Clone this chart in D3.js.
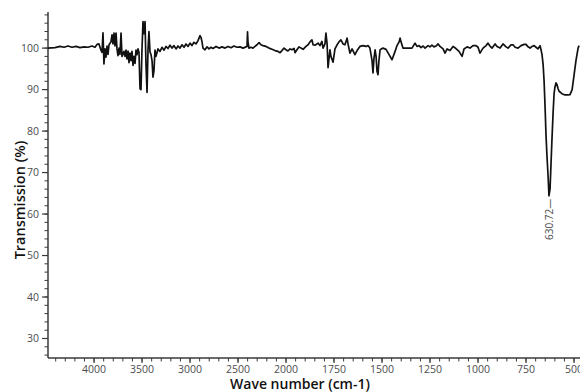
<!DOCTYPE html>
<html>
<head>
<meta charset="utf-8">
<script src="https://cdn.jsdelivr.net/npm/d3@7"></script>
<style>
html,body{margin:0;padding:0;background:#fff;}
svg{display:block;}
</style>
</head>
<body>
<svg id="chart" width="580" height="392"></svg>
<script>
// ---- data ----
const wavenumbers = [4480,4407,4355,4313,4272,4230,4188,4147,4105,4063,4022,3990,3969,3949,3928,3917,3907,3897,3886,3876,3865,3855,3844,3824,3813,3803,3792,3782,3771,3761,3751,3740,3730,3719,3709,3688,3678,3667,3657,3646,3636,3626,3615,3605,3594,3584,3573,3563,3553,3542,3532,3521,3511,3501,3490,3480,3469,3459,3448,3438,3428,3417,3407,3396,3386,3376,3365,3355,3334,3313,3292,3271,3250,3230,3209,3188,3167,3146,3125,3105,3084,3063,3042,3021,3000,2980,2959,2938,2917,2896,2886,2875,2865,2844,2823,2802,2782,2761,2729,2698,2667,2636,2604,2573,2542,2511,2479,2448,2417,2406,2401,2396,2386,2365,2344,2323,2302,2281,2261,2240,2208,2177,2146,2115,2083,2062,2042,2021,2000,
1990,1979,1969,1958,1953,1943,1932,1922,1911,1896,1885,1875,1865,1859,1849,1833,1823,1813,1807,1797,1792,1786,1781,1776,1771,1766,1755,1745,1734,1724,1714,1703,1693,1682,1677,1667,1656,1641,1630,1615,1599,1583,1573,1563,1552,1547,1542,1536,1531,1526,1521,1516,1510,1495,1479,1464,1448,1432,1422,1411,1406,1401,1391,1375,1359,1344,1328,1318,1307,1297,1286,1276,1260,1250,1240,1229,1219,1208,1198,1182,1172,1161,1146,1130,1115,1099,1083,1073,1057,1042,1026,1010,1000,990,974,958,948,938,927,911,901,885,870,854,844,828,818,807,792,776,760,750,740,729,719,708,698,688,677,672,667,661,656,651,646,641,635,630.72,625,620,615,609,604,599,594,589,583,578,563,547,531,521,510,500,490,479,474];
const transmission = [100,100.1,100.4,100.2,100.5,100.2,100.4,100.1,100.3,100.2,100.5,100.2,100.9,101.0,99.5,99.0,103.7,96.2,99.8,97.8,100.5,98.5,100.8,101.5,103.2,101.0,103.6,100.5,103.6,99.8,98.2,100,98.5,103.6,98.0,99.2,98.0,99.5,97.4,99.3,96.5,98.8,97.0,99.2,95.8,98.0,96.3,99.5,98.4,99.8,99.0,90.2,90.0,99.5,106.4,103.5,106.4,96.0,89.3,99.5,104,99.0,98.5,97.0,93.0,94.5,99.5,98.0,99.8,99.2,100.2,99.5,100.4,99.9,100.7,100.0,100.6,99.8,100.5,100.0,100.8,100.2,101.0,100.4,101.2,100.6,101.4,101.0,101.8,103.0,102.6,101.5,100.0,99.6,100.3,99.8,100.2,99.9,100.4,100.0,100.3,100.0,100.4,100.1,100.5,100.2,100.3,100.0,100.3,100.4,103.9,101.5,100.0,100.2,100.0,100.4,100.8,101.3,100.8,100.6,100.4,100.0,99.7,99.4,99.2,98.9,99.4,100.0,99.6,
99.3,99.8,99.6,99.9,98.9,99.6,100.3,100.0,99.7,100.4,100.8,101.5,102.0,100.8,100.7,101.2,100.6,101.6,100.0,101.0,103.6,101.0,95.3,97.5,99.6,98.0,96.6,99.8,100.8,101.5,102.0,101.0,100.8,102.4,101.0,98.8,99.8,98.4,99.4,100.4,100.6,100.4,100.6,100.0,97.0,94.0,97.5,99.6,98.0,94.4,93.6,97.0,99.6,100.0,99.7,98.5,97.2,99.2,100.6,101.5,102.4,101.5,100.0,100.0,100.0,100.0,101.2,100.4,100.6,100.1,100.5,100.0,100.6,100.3,100.7,100.3,100.5,101.0,100.4,99.8,98.8,99.8,99.4,100.4,99.9,99.2,98.0,99.8,100.3,100.0,100.6,100.6,100.2,98.8,100.0,100.6,101.2,100.5,100.0,101.0,100.4,100.0,101.0,100.3,100.0,100.8,100.8,100.2,100.0,100.6,100.9,100.9,100.3,100.0,100.4,100.6,100.2,99.8,100.6,99.6,98.5,96.0,92.0,86.0,79.0,74.0,69.0,64.4,66.0,72.0,78.0,84.5,89.0,90.7,91.6,91.2,90.2,89.6,89.0,88.7,88.7,88.8,90.0,93.5,97.0,100.0,100.6];

const xMajorTicks = [4000,3500,3000,2500,2000,1750,1500,1250,1000,750,500];
const yMajorTicks = [30,40,50,60,70,80,90,100];
const peakLabel = "630.72";
const peakWavenumber = 630.72;
const peakValue = 64.4;
const xTitle = "Wave number (cm-1)";
const yTitle = "Transmission (%)";

// ---- layout ----
const svg = d3.select("#chart");
const mLeft = 48, mTop = 12, mBottom = 358, mRight = 580;

const x = d3.scaleLinear().domain([4480, 2000, 469]).range([mLeft, 286, mRight]);
const y = d3.scaleLinear().domain([25.3, 108.7]).range([mBottom, mTop]);

const xMinor = d3.range(4400, 2000, -100).concat(d3.range(2000, 460, -50));
const yMinor = d3.range(26, 109, 2);

const axisColor = "#3a3a3a";
const labelColor = "#4d4d4d";
const font = "'Open Sans', 'DejaVu Sans', sans-serif";

// clip
svg.append("defs").append("clipPath").attr("id", "clip")
  .append("rect").attr("x", mLeft).attr("y", mTop - 2).attr("width", mRight - mLeft).attr("height", mBottom - mTop + 2);

// x axis
const gx = svg.append("g");
gx.selectAll("line.minor").data(xMinor).enter().append("line")
  .attr("x1", d => x(d)).attr("x2", d => x(d))
  .attr("y1", mBottom).attr("y2", mBottom + 3.5)
  .attr("stroke", axisColor).attr("stroke-width", 1);
gx.selectAll("line.major").data(xMajorTicks).enter().append("line")
  .attr("x1", d => x(d)).attr("x2", d => x(d))
  .attr("y1", mBottom).attr("y2", mBottom + 5)
  .attr("stroke", axisColor).attr("stroke-width", 1.2);
gx.selectAll("text").data(xMajorTicks).enter().append("text")
  .attr("x", d => x(d)).attr("y", mBottom + 15)
  .attr("text-anchor", "middle")
  .attr("font-family", font).attr("font-size", 10.5)
  .attr("fill", labelColor)
  .text(d => d);
gx.append("line").attr("x1", mLeft).attr("x2", mRight).attr("y1", mBottom).attr("y2", mBottom)
  .attr("stroke", axisColor).attr("stroke-width", 1.5);

// y axis
const gy = svg.append("g");
gy.selectAll("line.minor").data(yMinor).enter().append("line")
  .attr("x1", mLeft - 3.5).attr("x2", mLeft)
  .attr("y1", d => y(d)).attr("y2", d => y(d))
  .attr("stroke", axisColor).attr("stroke-width", 1);
gy.selectAll("line.major").data(yMajorTicks).enter().append("line")
  .attr("x1", mLeft - 6).attr("x2", mLeft)
  .attr("y1", d => y(d)).attr("y2", d => y(d))
  .attr("stroke", axisColor).attr("stroke-width", 1.2);
gy.selectAll("text").data(yMajorTicks).enter().append("text")
  .attr("x", mLeft - 9).attr("y", d => y(d))
  .attr("dy", "0.35em")
  .attr("text-anchor", "end")
  .attr("font-family", font).attr("font-size", 10.5)
  .attr("fill", labelColor)
  .text(d => d);
gy.append("line").attr("x1", mLeft).attr("x2", mLeft).attr("y1", mTop).attr("y2", mBottom)
  .attr("stroke", axisColor).attr("stroke-width", 1.5);

// spectrum
const pts = wavenumbers.map((w, i) => [w, transmission[i]]);
const line = d3.line().x(d => x(d[0])).y(d => y(d[1])).curve(d3.curveLinear);
svg.append("path").datum(pts)
  .attr("clip-path", "url(#clip)")
  .attr("d", line)
  .attr("fill", "none")
  .attr("stroke", "#111")
  .attr("stroke-width", 1.7)
  .attr("stroke-linejoin", "round");

// peak annotation
const px = x(peakWavenumber), py = y(peakValue);
svg.append("text")
  .attr("transform", `translate(${px + 0.5},${py + 3}) rotate(-90)`)
  .attr("text-anchor", "end")
  .attr("dominant-baseline", "central")
  .attr("font-family", font).attr("font-size", 10)
  .attr("fill", labelColor)
  .text(peakLabel + "\u2014");

// titles
svg.append("text")
  .attr("x", 300).attr("y", 389)
  .attr("text-anchor", "middle")
  .attr("font-family", font).attr("font-size", 14)
  .attr("font-weight", 600)
  .attr("fill", "#111")
  .text(xTitle);
svg.append("text")
  .attr("transform", "translate(25,200) rotate(-90)")
  .attr("text-anchor", "middle")
  .attr("font-family", font).attr("font-size", 14.5)
  .attr("font-weight", 600)
  .attr("fill", "#111")
  .text(yTitle);
</script>
</body>
</html>
